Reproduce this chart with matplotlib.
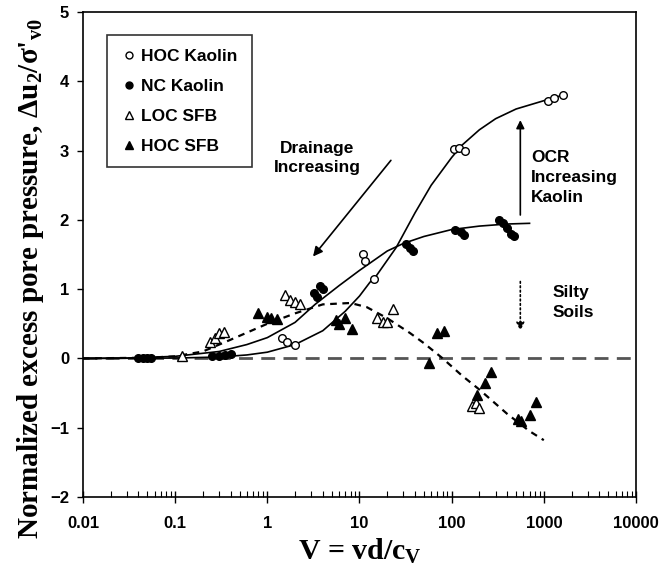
import matplotlib.pyplot as plt
from matplotlib.lines import Line2D

# data: V = vd/cv and normalized excess pore pressure
hoc_kaolin_v = [1.45, 1.65, 2.0, 10.8, 11.5, 14.5, 105, 120, 138, 1100, 1300, 1600]
hoc_kaolin_du = [0.29, 0.23, 0.20, 1.50, 1.40, 1.14, 3.02, 3.03, 3.00, 3.72, 3.76, 3.80]

nc_kaolin_v = [0.04, 0.045, 0.05, 0.055, 0.25, 0.3, 0.35, 0.4,
               3.2, 3.5, 3.7, 4.0, 32, 35, 38, 110, 125, 137,
               330, 360, 400, 440, 470]
nc_kaolin_du = [0.0, 0.0, 0.0, 0.0, 0.03, 0.04, 0.05, 0.06,
                0.95, 0.88, 1.05, 1.00, 1.65, 1.60, 1.55, 1.86, 1.82, 1.78,
                2.00, 1.95, 1.88, 1.80, 1.76]

loc_sfb_v = [0.12, 0.24, 0.27, 0.30, 0.34, 1.55, 1.75, 2.0, 2.25,
             15.4, 17.8, 20, 22.9, 168, 185, 200]
loc_sfb_du = [0.04, 0.23, 0.30, 0.36, 0.38, 0.91, 0.85, 0.81, 0.79,
              0.58, 0.52, 0.53, 0.72, -0.68, -0.65, -0.72]

hoc_sfb_v = [0.8, 1.0, 1.1, 1.27, 5.6, 6.0, 6.9, 8.2, 57, 70, 83,
             190, 230, 270, 520, 570, 700, 830]
hoc_sfb_du = [0.66, 0.60, 0.58, 0.57, 0.55, 0.50, 0.58, 0.43, -0.06, 0.36, 0.40,
              -0.53, -0.35, -0.20, -0.87, -0.90, -0.82, -0.63]

# trend lines
hoc_curve_v = [0.01, 0.1, 0.3, 0.6, 1, 2, 4, 7, 10, 13, 15, 25, 40, 60, 100,
               130, 200, 300, 500, 1000, 1600]
hoc_curve_du = [0.0, 0.005, 0.02, 0.05, 0.09, 0.2, 0.4, 0.68, 0.9, 1.1, 1.18, 1.6,
                2.1, 2.5, 2.9, 3.08, 3.3, 3.46, 3.6, 3.72, 3.8]

nc_curve_v = [0.01, 0.03, 0.1, 0.3, 0.6, 1, 2, 3.3, 6, 10, 20, 30, 50, 100,
              200, 400, 700]
nc_curve_du = [0.0, 0.005, 0.03, 0.1, 0.2, 0.3, 0.52, 0.78, 1.05, 1.27, 1.55,
               1.66, 1.76, 1.86, 1.91, 1.94, 1.95]

sfb_curve_v = [0.01, 0.05, 0.1, 0.2, 0.4, 1, 2, 4, 8, 12, 20, 35, 50, 80,
               130, 200, 400, 700, 1000]
sfb_curve_du = [0.0, 0.01, 0.03, 0.1, 0.27, 0.5, 0.65, 0.78, 0.8, 0.74, 0.58,
                0.37, 0.22, 0.0, -0.25, -0.45, -0.8, -1.05, -1.18]

labels = ['HOC Kaolin', 'NC Kaolin', 'LOC SFB', 'HOC SFB']

plt.rcParams['font.family'] = ['Liberation Sans', 'DejaVu Sans']
plt.rcParams['mathtext.fontset'] = 'custom'
plt.rcParams['mathtext.rm'] = 'Liberation Serif:bold'
plt.rcParams['mathtext.it'] = 'Liberation Serif:bold'
plt.rcParams['mathtext.bf'] = 'Liberation Serif:bold'

fig = plt.figure(figsize=(6.67, 5.75), dpi=100)
ax = fig.add_axes([0.1244, 0.1357, 0.8291, 0.8434])

ax.axhline(0, color='#555555', lw=2, dashes=(5, 3))
ax.plot(hoc_curve_v, hoc_curve_du, color='black', lw=1.2)
ax.plot(nc_curve_v, nc_curve_du, color='black', lw=1.2)
ax.plot(sfb_curve_v, sfb_curve_du, color='black', lw=1.6, dashes=(3, 2.5))

ax.plot(hoc_kaolin_v, hoc_kaolin_du, 'o', ms=5.5, mfc='white', mec='black', mew=1)
ax.plot(nc_kaolin_v, nc_kaolin_du, 'o', ms=5.5, mfc='black', mec='black')
ax.plot(loc_sfb_v, loc_sfb_du, '^', ms=7, mfc='white', mec='black', mew=1)
ax.plot(hoc_sfb_v, hoc_sfb_du, '^', ms=7, mfc='black', mec='black')

ax.set_xscale('log')
ax.set_xlim(0.01, 10000)
ax.set_ylim(-2, 5)
ax.set_xticks([0.01, 0.1, 1, 10, 100, 1000, 10000])
ax.set_xticklabels(['0.01', '0.1', '1', '10', '100', '1000', '10000'])
ax.set_yticks(range(-2, 6))
ax.tick_params(axis='x', which='major', direction='inout', length=8, width=1, pad=10)
ax.tick_params(axis='x', which='minor', direction='in', length=4, width=0.8)
ax.tick_params(axis='y', direction='out', length=4, width=1, pad=6)
for t in ax.get_xticklabels() + ax.get_yticklabels():
    t.set_fontsize(12)
    t.set_fontweight('bold')
for s in ax.spines.values():
    s.set_linewidth(1.2)

ax.set_xlabel(r"V = vd/c$_{\mathrm{V}}$", family='Liberation Serif',
              fontweight='bold', fontsize=21.5, labelpad=4)
ax.set_ylabel(r"Normalized excess pore pressure, $\Delta$u$_2$/$\sigma$'$_{\mathrm{v0}}$",
              family='Liberation Serif', fontweight='bold', fontsize=21)
ax.yaxis.set_label_coords(-0.066, 0.45)

# arrows and notes
ax.annotate('', xy=(3.0, 1.44), xytext=(22.9, 2.89),
            arrowprops=dict(arrowstyle='-|>', color='black', lw=1.2, mutation_scale=14))
ax.text(3.5, 2.89, 'Drainage\nIncreasing', ha='center', va='center',
        fontsize=12.5, fontweight='bold', linespacing=1.3)

ax.annotate('', xy=(556, 3.48), xytext=(556, 2.03),
            arrowprops=dict(arrowstyle='-|>', color='black', lw=1.2, mutation_scale=12))
ax.text(727, 2.61, 'OCR\nIncreasing\nKaolin', ha='left', va='center',
        fontsize=12.5, fontweight='bold', linespacing=1.4)

ax.annotate('', xy=(556, 0.36), xytext=(556, 1.15),
            arrowprops=dict(arrowstyle='-|>', color='black', lw=1.2, ls=':',
                            mutation_scale=12))
ax.text(1230, 0.81, 'Silty\nSoils', ha='left', va='center',
        fontsize=12.5, fontweight='bold', linespacing=1.4)

handles = [
    Line2D([], [], ls='none', marker='o', ms=5, mfc='white', mec='black'),
    Line2D([], [], ls='none', marker='o', ms=5, mfc='black', mec='black'),
    Line2D([], [], ls='none', marker='^', ms=6, mfc='white', mec='black'),
    Line2D([], [], ls='none', marker='^', ms=6, mfc='black', mec='black'),
]
leg = ax.legend(handles, labels, loc='upper left', bbox_to_anchor=(0.043, 0.953),
                borderaxespad=0, fancybox=False, edgecolor='black',
                prop={'weight': 'bold', 'size': 12.5}, handlelength=1.0,
                handletextpad=0.2, labelspacing=0.85, borderpad=0.8)
leg.get_frame().set_linewidth(1.2)

plt.savefig('out.png', dpi=100)
plt.close()
